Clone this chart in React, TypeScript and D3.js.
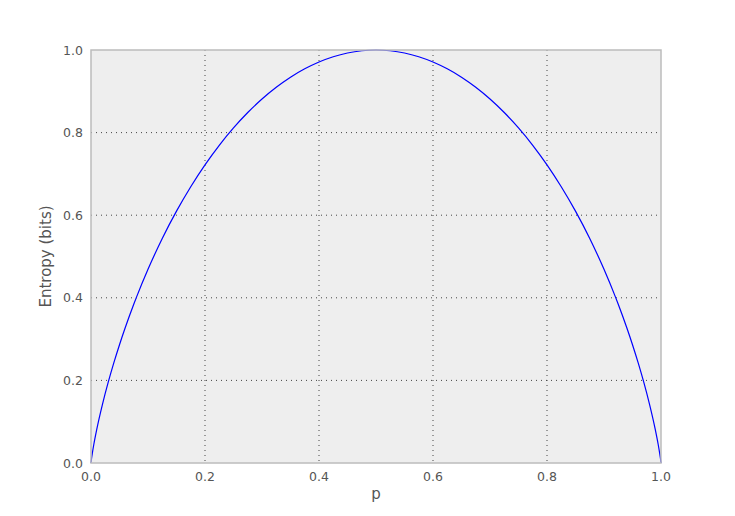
import React from "react";
import * as d3 from "d3";

const pValues = [0, 0.001, 0.0025, 0.005, 0.01, 0.02, 0.03, 0.04, 0.05, 0.06, 0.075, 0.08, 0.1, 0.125, 0.15, 0.175, 0.2, 0.225, 0.25, 0.275, 0.3, 0.325, 0.35, 0.375, 0.4, 0.425, 0.45, 0.475, 0.5,
  0.525, 0.55, 0.575, 0.6, 0.625, 0.65, 0.675, 0.7, 0.725, 0.75, 0.775, 0.8, 0.825, 0.85, 0.875, 0.9, 0.92, 0.925, 0.94, 0.95, 0.96, 0.97, 0.98, 0.99, 0.995, 0.9975, 0.999, 1];
const entropyValues = [0, 0.0114, 0.0252, 0.0454, 0.0808, 0.1414, 0.1944, 0.2423, 0.2864, 0.3274, 0.3843, 0.4022, 0.469, 0.5436, 0.6098, 0.669, 0.7219, 0.7692, 0.8113, 0.8486, 0.8813, 0.9097, 0.9341, 0.9544, 0.971, 0.9837, 0.9928, 0.9982, 1,
  0.9982, 0.9928, 0.9837, 0.971, 0.9544, 0.9341, 0.9097, 0.8813, 0.8486, 0.8113, 0.7692, 0.7219, 0.669, 0.6098, 0.5436, 0.469, 0.4022, 0.3843, 0.3274, 0.2864, 0.2423, 0.1944, 0.1414, 0.0808, 0.0454, 0.0252, 0.0114, 0];
const xTicks = [0, 0.2, 0.4, 0.6, 0.8, 1.0];
const yTicks = [0, 0.2, 0.4, 0.6, 0.8, 1.0];

const W = 735, H = 516;
const M = { left: 91, right: 661, top: 50, bottom: 463 };

export default function App() {
  const x = d3.scaleLinear().domain([0, 1]).range([M.left, M.right]);
  const y = d3.scaleLinear().domain([0, 1]).range([M.bottom, M.top]);
  const pts = pValues.map((p, i) => [p, entropyValues[i]] as [number, number]);
  const line = d3.line<[number, number]>().x(d => x(d[0])).y(d => y(d[1])).curve(d3.curveMonotoneX);
  const font = "DejaVu Sans, sans-serif";
  return (
    <svg width={W} height={H} style={{ position: "absolute", left: 0, top: 0, background: "#fff" }}>
      <rect x={M.left} y={M.top} width={M.right - M.left} height={M.bottom - M.top} fill="#eeeeee" />
      {xTicks.slice(1, -1).map(t => (
        <line key={"gx" + t} x1={x(t)} x2={x(t)} y1={M.top} y2={M.bottom} stroke="#444" strokeWidth={1} strokeDasharray="1,4" />
      ))}
      {yTicks.slice(1, -1).map(t => (
        <line key={"gy" + t} x1={M.left} x2={M.right} y1={y(t)} y2={y(t)} stroke="#444" strokeWidth={1} strokeDasharray="1,4" />
      ))}
      <path d={line(pts) || ""} fill="none" stroke="#0000ff" strokeWidth={1.2} />
      <rect x={M.left} y={M.top} width={M.right - M.left} height={M.bottom - M.top} fill="none" stroke="#bcbcbc" strokeWidth={1.5} />
      {xTicks.map(t => (
        <text key={"tx" + t} x={x(t)} y={M.bottom + 18} textAnchor="middle" fontFamily={font} fontSize={12.5} fill="#555">{t.toFixed(1)}</text>
      ))}
      {yTicks.map(t => (
        <text key={"ty" + t} x={M.left - 8} y={y(t) + 4.5} textAnchor="end" fontFamily={font} fontSize={12.5} fill="#555">{t.toFixed(1)}</text>
      ))}
      <text x={(M.left + M.right) / 2} y={499} textAnchor="middle" fontFamily={font} fontSize={15} fill="#555">p</text>
      <text transform={`translate(51,${(M.top + M.bottom) / 2}) rotate(-90)`} textAnchor="middle" fontFamily={font} fontSize={15} fill="#555">Entropy (bits)</text>
    </svg>
  );
}
